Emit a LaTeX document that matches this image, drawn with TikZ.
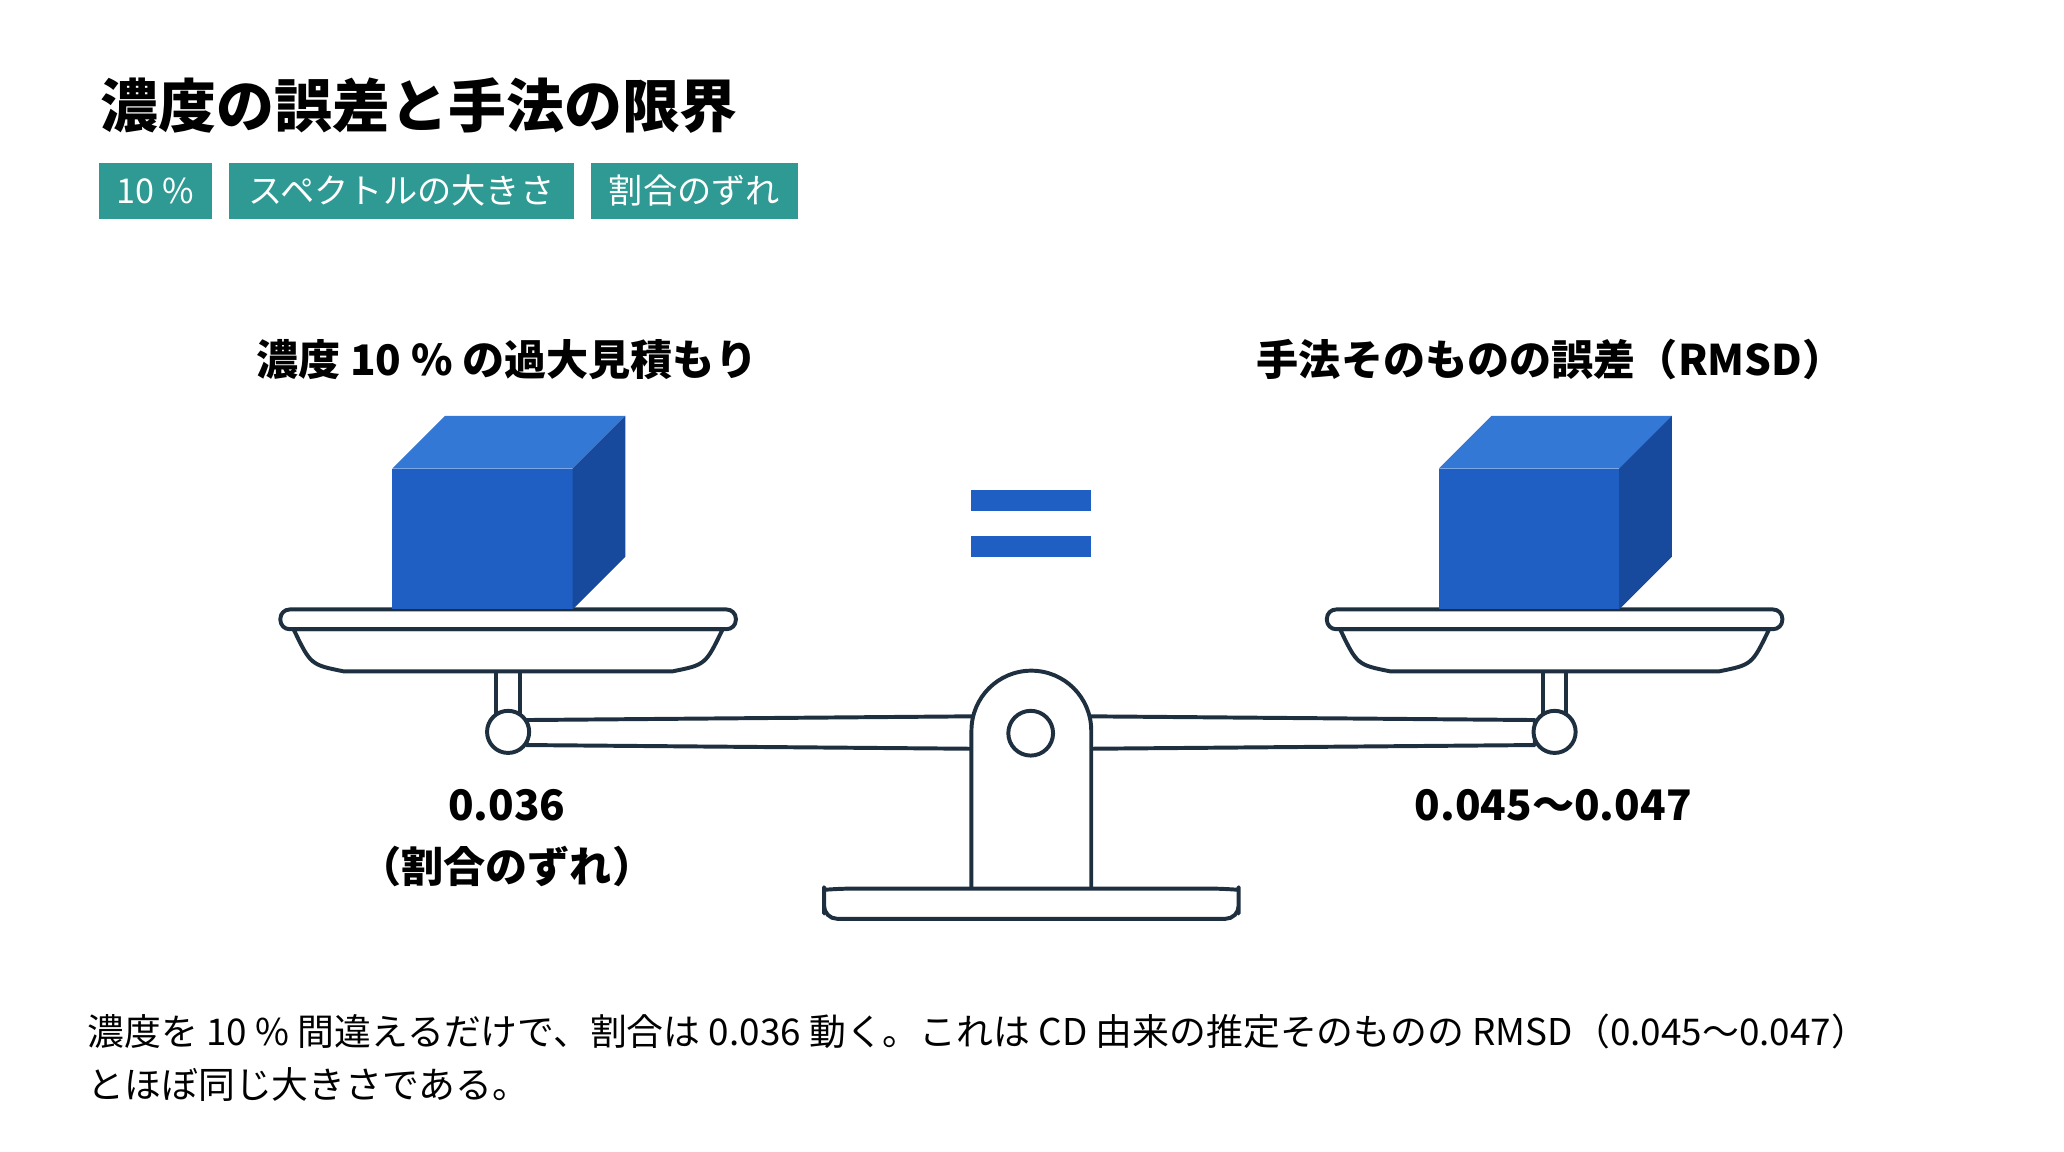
\documentclass[tikz,border=0pt]{standalone}
\usepackage{fontspec}
\setmainfont{Noto Sans CJK JP}
\usetikzlibrary{positioning}
\definecolor{tagteal}{HTML}{2E9A93}
\definecolor{ink}{HTML}{1E2F3F}
\definecolor{cubefront}{HTML}{1F5FC4}
\definecolor{cubetop}{HTML}{3478D6}
\definecolor{cubeside}{HTML}{174A9C}
\tikzset{
  tag/.style={fill=tagteal, text=white, font=\fontsize{26}{30}\selectfont, inner sep=0pt, anchor=center},
  head/.style={font=\bfseries\fontsize{32}{38}\selectfont, text=black},
  part/.style={draw=ink, line width=3pt, fill=white, line join=round},
}
\begin{document}
\begin{tikzpicture}[x=1pt,y=-1pt]
\useasboundingbox (0,0) rectangle (1568,875);

\node[anchor=west, font=\bfseries\fontsize{44}{50}\selectfont] (title) at (73,80) {濃度の誤差と手法の限界};

\node[tag, minimum width=86pt, minimum height=43pt] (t1) at (118,145) {10 \%};
\node[tag, minimum width=262pt, minimum height=43pt] (t2) at (305,145) {スペクトルの大きさ};
\node[tag, minimum width=157pt, minimum height=43pt] (t3) at (527.5,145) {割合のずれ};

\node[head] (lhead) at (385,273) {濃度 10 \% の過大見積もり};
\node[head] (rhead) at (1178,273) {手法そのものの誤差（RMSD）};

% beam
\draw[part] (400,547) -- (760,544) -- (760,569) -- (400,566) -- cycle;
\draw[part] (806,544) -- (1166,547) -- (1166,566) -- (806,569) -- cycle;

% stems
\draw[part] (377,505) rectangle (395,545);
\draw[part] (1172,505) rectangle (1190,545);

% pans
\foreach \cx in {386, 1181} {
  \draw[part] (\cx-163,478) -- (\cx+163,478) .. controls (\cx+150,505) .. (\cx+125,510)
    -- (\cx-125,510) .. controls (\cx-150,505) .. (\cx-163,478) -- cycle;
  \draw[part, rounded corners=7pt] (\cx-173,463) rectangle (\cx+173,478);
}
\draw[part] (386,556) circle (16);
\draw[part] (1181,556) circle (16);

% fulcrum
\draw[part] (738,675) -- (738,555) arc (180:360:45.5) -- (829,675);
\draw[part] (783,557) circle (17);
\draw[part, rounded corners=10pt] (626,698) -- (626,684) .. controls (626,676) .. (640,675) -- (927,675) .. controls (941,676) .. (941,684) -- (941,698) -- cycle;

% cubes
\foreach \fx in {298, 1093} {
  \fill[cubefront] (\fx,356) rectangle (\fx+137,463);
  \fill[cubetop] (\fx,356) -- (\fx+40,316) -- (\fx+177,316) -- (\fx+137,356) -- cycle;
  \fill[cubeside] (\fx+137,356) -- (\fx+177,316) -- (\fx+177,423) -- (\fx+137,463) -- cycle;
}

% equals
\fill[cubefront] (738,372) rectangle (829,388);
\fill[cubefront] (738,407) rectangle (829,423);

\node[head] (lval) at (385,612) {0.036};
\node[head] (lnote) at (385,658) {（割合のずれ）};
\node[head] (rval) at (1180,612) {0.045〜0.047};

\node[anchor=north west, align=left, font=\fontsize{28}{40}\selectfont] (note) at (63,767)
{濃度を 10 \% 間違えるだけで、割合は 0.036 動く。これは CD 由来の推定そのものの RMSD（0.045〜0.047）\\とほぼ同じ大きさである。};
\end{tikzpicture}
\end{document}
